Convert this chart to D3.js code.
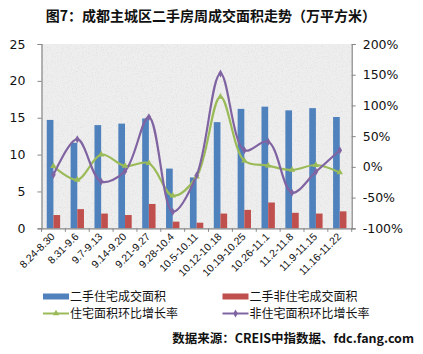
<!DOCTYPE html>
<html><head><meta charset="utf-8">
<script src="https://cdn.jsdelivr.net/npm/d3@7"></script>
<style>
html,body{margin:0;padding:0;background:#fff;}
svg{display:block;}
</style></head>
<body>
<script>
const categories = ["8.24-8.30","8.31-9.6","9.7-9.13","9.14-9.20","9.21-9.27","9.28-10.4","10.5-10.11","10.12-10.18","10.19-10.25","10.26-11.1","11.2-11.8","11.9-11.15","11.16-11.22"];
const residentialArea = [14.7, 11.6, 14.0, 14.2, 14.9, 8.1, 6.9, 14.4, 16.2, 16.5, 16.0, 16.3, 15.1];
const nonResidentialArea = [1.8, 2.6, 2.0, 1.8, 3.3, 0.9, 0.76, 2.0, 2.5, 3.5, 2.1, 2.0, 2.3];
const residentialGrowth = [1, -21, 20, 1.5, 6, -47, -16, 114, 10, 2, -5, 3, -9];
const nonResidentialGrowth = [-13, 45, -24, -7, 81, -73, -14, 152, 27, 41, -42, -8, 27];
const leftTicks = [0, 5, 10, 15, 20, 25];
const rightTicks = [-100, -50, 0, 50, 100, 150, 200];
const seriesNames = ["二手住宅成交面积", "二手非住宅成交面积", "住宅面积环比增长率", "非住宅面积环比增长率"];
const titleText = "图7：成都主城区二手房周成交面积走势（万平方米）";
const sourceText = "数据来源：CREIS中指数据、fdc.fang.com";

const W = 423, H = 354;
const plot = {l: 41.5, r: 351.7, t: 44, b: 228.3};
const colors = {blue: "#4f81bd", red: "#c0504d", green: "#9bbb59", purple: "#8064a2", axis: "#868686"};
const cjk = "'Noto Sans CJK SC', 'Noto Sans', sans-serif";
const num = "'DejaVu Sans', sans-serif";

const svg = d3.select("body").append("svg").attr("width", W).attr("height", H);

// noise texture
const defs = svg.append("defs");
const f = defs.append("filter").attr("id", "noise").attr("x", 0).attr("y", 0).attr("width", "100%").attr("height", "100%");
f.append("feTurbulence").attr("type", "fractalNoise").attr("baseFrequency", 0.8).attr("numOctaves", 3).attr("seed", 3).attr("result", "t");
f.append("feColorMatrix").attr("in", "t").attr("type", "matrix")
  .attr("values", "0 0 0 0 0.5  0 0 0 0 0.5  0 0 0 0 0.5  -1.4 0 0 0 0.72");

const x = d3.scaleBand().domain(categories).range([plot.l, plot.r]);
const yL = d3.scaleLinear().domain([0, 25]).range([plot.b, plot.t]);
const yR = d3.scaleLinear().domain([-100, 200]).range([plot.b, plot.t]);

// plot background
svg.append("rect").attr("x", plot.l).attr("y", plot.t).attr("width", plot.r - plot.l).attr("height", plot.b - plot.t).attr("fill", "#eeeeee");
svg.append("rect").attr("x", plot.l).attr("y", plot.t).attr("width", plot.r - plot.l).attr("height", plot.b - plot.t).attr("filter", "url(#noise)").attr("opacity", 0.45);

// title
svg.append("text").attr("x", 211).attr("y", 21).attr("text-anchor", "middle")
  .attr("font-family", cjk).attr("font-weight", "bold").attr("font-size", 14).attr("fill", "#111").text(titleText);

// bars
const bw = x.bandwidth() * 0.28;
const gB = svg.append("g");
gB.selectAll("rect.b").data(residentialArea).join("rect")
  .attr("x", (d, i) => x(categories[i]) + x.bandwidth() / 2 - bw)
  .attr("y", d => yL(d)).attr("width", bw).attr("height", d => plot.b - yL(d)).attr("fill", colors.blue);
gB.selectAll("rect.r").data(nonResidentialArea).join("rect").attr("class", "r")
  .attr("x", (d, i) => x(categories[i]) + x.bandwidth() / 2)
  .attr("y", d => yL(d)).attr("width", bw).attr("height", d => plot.b - yL(d)).attr("fill", colors.red);

// axes
const axL = d3.axisLeft(yL).tickValues(leftTicks).tickSize(4).tickPadding(12);
const gL = svg.append("g").attr("transform", `translate(${plot.l},0)`).call(axL);
const axR = d3.axisRight(yR).tickValues(rightTicks).tickSize(4).tickPadding(7).tickFormat(d => d + "%");
const gR = svg.append("g").attr("transform", `translate(${plot.r},0)`).call(axR);
const axB = d3.axisBottom(x).tickSize(0).tickFormat("");
const gBt = svg.append("g").attr("transform", `translate(0,${plot.b})`).call(axB);
[gL, gR, gBt].forEach(g => {
  g.selectAll("path").attr("stroke", colors.axis).attr("stroke-width", 1.2);
  g.selectAll("line").attr("stroke", colors.axis);
  g.selectAll("text").attr("font-family", num).attr("font-size", 12.5).attr("fill", "#111");
});
// category boundary ticks
svg.append("g").selectAll("line").data(d3.range(categories.length + 1)).join("line")
  .attr("x1", i => plot.l + i * x.step()).attr("x2", i => plot.l + i * x.step())
  .attr("y1", plot.b).attr("y2", plot.b + 3.5).attr("stroke", colors.axis);
// rotated category labels
svg.append("g").selectAll("text").data(categories).join("text")
  .attr("transform", d => `translate(${x(d) + x.bandwidth() / 2 + 2},${plot.b + 9}) rotate(-45)`)
  .attr("text-anchor", "end").attr("font-family", "'Liberation Sans', Arial, sans-serif").attr("font-size", 10.5).attr("fill", "#111")
  .text(d => d);

// lines
const curve = d3.curveCatmullRom.alpha(0.5);
const lineG = d3.line().x((d, i) => x(categories[i]) + x.bandwidth() / 2).y(d => yR(d)).curve(curve);
svg.append("path").attr("d", lineG(residentialGrowth)).attr("fill", "none").attr("stroke", colors.green).attr("stroke-width", 2.2);
svg.append("path").attr("d", lineG(nonResidentialGrowth)).attr("fill", "none").attr("stroke", colors.purple).attr("stroke-width", 2.2);
const tri = d3.symbol().type(d3.symbolTriangle).size(18);
const dia = d3.symbol().type(d3.symbolDiamond).size(18);
svg.append("g").selectAll("path").data(residentialGrowth).join("path")
  .attr("transform", (d, i) => `translate(${x(categories[i]) + x.bandwidth() / 2},${yR(d)})`).attr("d", tri).attr("fill", colors.green);
svg.append("g").selectAll("path").data(nonResidentialGrowth).join("path")
  .attr("transform", (d, i) => `translate(${x(categories[i]) + x.bandwidth() / 2},${yR(d)})`).attr("d", dia).attr("fill", colors.purple);

// legend
const leg = svg.append("g");
const legItems = [
  {name: seriesNames[0], c: colors.blue, t: "bar", x: 43, y: 296.5},
  {name: seriesNames[1], c: colors.red, t: "bar", x: 222.5, y: 296.5},
  {name: seriesNames[2], c: colors.green, t: "tri", x: 43, y: 313.5},
  {name: seriesNames[3], c: colors.purple, t: "dia", x: 222.5, y: 313.5}
];
legItems.forEach(it => {
  if (it.t === "bar") {
    leg.append("rect").attr("x", it.x).attr("y", it.y - 3).attr("width", 26).attr("height", 6).attr("fill", it.c);
  } else {
    leg.append("line").attr("x1", it.x).attr("x2", it.x + 26).attr("y1", it.y).attr("y2", it.y).attr("stroke", it.c).attr("stroke-width", 2);
    leg.append("path").attr("transform", `translate(${it.x + 13},${it.y})`).attr("d", it.t === "tri" ? tri : dia).attr("fill", it.c);
  }
  leg.append("text").attr("x", it.x + 27).attr("y", it.y).attr("dy", "0.36em")
    .attr("font-family", cjk).attr("font-size", 12).attr("fill", "#111").text(it.name);
});

// source
svg.append("text").attr("x", 414).attr("y", 338).attr("dy", "0.36em").attr("text-anchor", "end")
  .attr("font-family", cjk).attr("font-weight", "bold").attr("font-size", 12.5).attr("fill", "#111").text(sourceText);
</script>
</body></html>
